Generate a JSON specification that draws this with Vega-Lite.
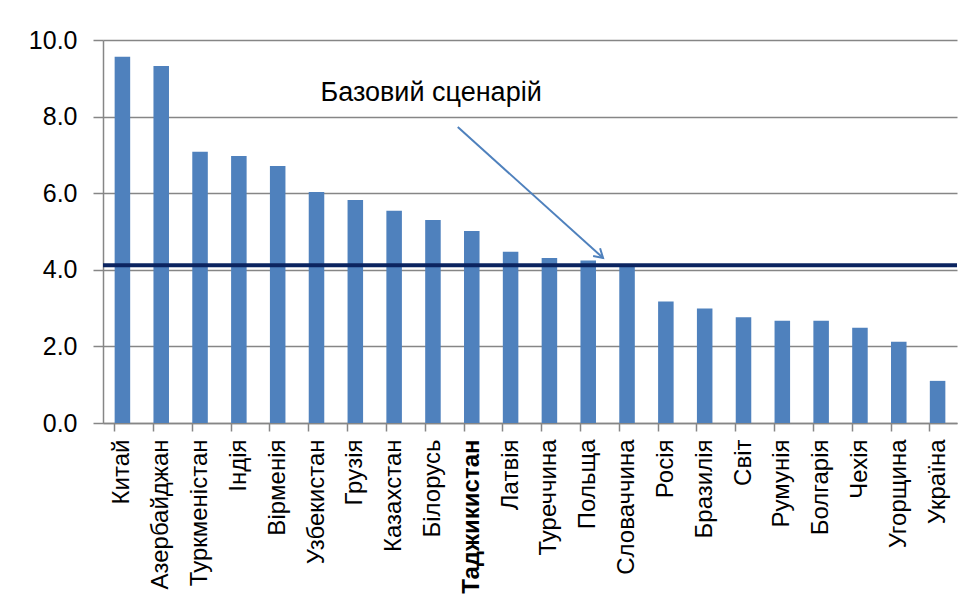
{
  "$schema": "https://vega.github.io/schema/vega-lite/v6.json",
  "autosize": "none",
  "width": 854,
  "height": 383,
  "padding": {"left": 103, "top": 40, "right": 19, "bottom": 187},
  "background": "white",
  "config": {
    "view": {"stroke": null}
  },
  "layer": [
    {
      "data": {"values": [
        {"country": "Китай", "value": 9.56},
        {"country": "Азербайджан", "value": 9.32},
        {"country": "Туркменістан", "value": 7.08},
        {"country": "Індія", "value": 6.97},
        {"country": "Вірменія", "value": 6.71},
        {"country": "Узбекистан", "value": 6.03},
        {"country": "Грузія", "value": 5.82},
        {"country": "Казахстан", "value": 5.54},
        {"country": "Білорусь", "value": 5.30},
        {"country": "Таджикистан", "value": 5.01},
        {"country": "Латвія", "value": 4.47},
        {"country": "Туреччина", "value": 4.31},
        {"country": "Польща", "value": 4.24},
        {"country": "Словаччина", "value": 4.07},
        {"country": "Росія", "value": 3.17},
        {"country": "Бразилія", "value": 2.99},
        {"country": "Світ", "value": 2.76},
        {"country": "Румунія", "value": 2.67},
        {"country": "Болгарія", "value": 2.67},
        {"country": "Чехія", "value": 2.49},
        {"country": "Угорщина", "value": 2.12},
        {"country": "Україна", "value": 1.10}
      ]},
      "mark": {"type": "bar", "color": "#4F81BD"},
      "encoding": {
        "x": {
          "field": "country", "type": "nominal", "sort": null,
          "scale": {"paddingInner": 0.6, "paddingOuter": 0.3},
          "axis": {
            "title": null, "labelAngle": -90, "labelFont": "Liberation Sans", "labelFontSize": 24,
            "labelColor": "black", "labelLimit": 300, "labelPadding": 8,
            "labelFontWeight": {"condition": {"test": "datum.value === 'Таджикистан'", "value": "bold"}, "value": "normal"},
            "bandPosition": 0, "tickSize": 8, "tickColor": "#868686", "tickWidth": 1.5,
            "domainColor": "#868686", "domainWidth": 1.5
          }
        },
        "y": {
          "field": "value", "type": "quantitative",
          "scale": {"domain": [0, 10]},
          "axis": {
            "title": null, "values": [0, 2, 4, 6, 8, 10], "format": ".1f",
            "labelFont": "Liberation Sans", "labelFontSize": 25, "labelColor": "black", "labelPadding": 16,
            "tickSize": 10, "tickColor": "#868686", "tickWidth": 1.5,
            "domainColor": "#868686", "domainWidth": 1.5,
            "grid": true, "gridColor": "#868686", "gridWidth": 1.5
          }
        }
      }
    },
    {
      "data": {"values": [{"base": 4.12}]},
      "mark": {"type": "rule", "color": "#0B2460", "strokeWidth": 4},
      "encoding": {"y": {"field": "base", "type": "quantitative"}}
    },
    {
      "data": {"values": [{"from": "Таджикистан", "y1": 7.73, "to": "Словаччина", "y2": 4.31}]},
      "mark": {"type": "rule", "color": "#4F81BD", "strokeWidth": 2, "xOffset": -14, "x2Offset": -24},
      "encoding": {
        "x": {"field": "from", "type": "nominal", "sort": null},
        "x2": {"field": "to"},
        "y": {"field": "y1", "type": "quantitative"},
        "y2": {"field": "y2"}
      }
    },
    {
      "data": {"values": [{"to": "Словаччина", "y2": 4.31}]},
      "mark": {"type": "point", "shape": "M-1,-0.6L0,0L-1,0.6", "angle": 41.9, "filled": false, "stroke": "#4F81BD", "strokeWidth": 2, "size": 300, "opacity": 1, "xOffset": -24},
      "encoding": {
        "x": {"field": "to", "type": "nominal", "sort": null},
        "y": {"field": "y2", "type": "quantitative"}
      }
    },
    {
      "data": {"values": [{"at": "Узбекистан", "y": 8.4, "label": "Базовий сценарій"}]},
      "mark": {"type": "text", "align": "left", "baseline": "alphabetic", "dx": 4, "font": "Liberation Sans", "fontSize": 27, "color": "black"},
      "encoding": {
        "x": {"field": "at", "type": "nominal", "sort": null},
        "y": {"field": "y", "type": "quantitative"},
        "text": {"field": "label"}
      }
    }
  ]
}
